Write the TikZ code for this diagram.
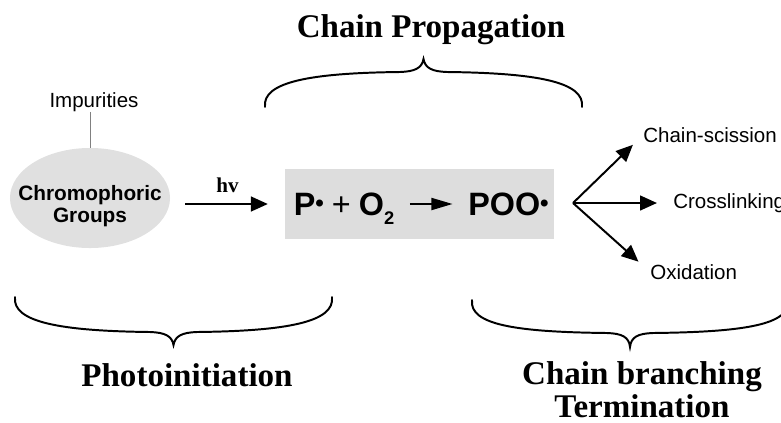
\documentclass[tikz,border=0pt]{standalone}
\usepackage{fontspec}
\setmainfont{Liberation Serif}
\setsansfont{Liberation Sans}
\usetikzlibrary{arrows.meta,shapes.geometric}
\definecolor{ovalgray}{RGB}{224,224,224}
\definecolor{boxgray}{RGB}{221,221,221}
\newcommand{\raddot}{\raisebox{0.1em}{\scalebox{0.75}{•}}}
\newcommand{\lowtwo}{\raisebox{-0.3em}{\fontsize{13}{13}\selectfont 2}}

\begin{document}
\begin{tikzpicture}[x=0.025cm,y=-0.025cm,
		stage/.style={font=\rmfamily\bfseries\fontsize{23.5}{23.5}\selectfont, align=center, inner sep=0pt},
		plain/.style={font=\sffamily\fontsize{14.6}{16}\selectfont, inner sep=0pt},
		grouptext/.style={font=\sffamily\bfseries\fontsize{14.8}{15.6}\selectfont, align=center, inner sep=0pt},
		eqn/.style={font=\sffamily\bfseries\fontsize{23}{23}\selectfont, inner sep=0pt, anchor=base},
		curly/.style={line width=1.4pt, line cap=round},
		heavyarrow/.style={line width=1.4pt, -{Triangle[length=12pt,width=10.5pt]}},
		slimarrow/.style={line width=1.4pt, -{Triangle[length=15pt,width=8.5pt]}}]
		\useasboundingbox (0,0) rectangle (781,422);
		% left part
		\node[ellipse, fill=ovalgray, minimum width=4cm, minimum height=2.5cm, inner sep=0pt] (chromo) at (90,198) {};
		\node[grouptext] (chromotext) at (90,206) {Chromophoric\\Groups};
		\node[plain] (imp) at (94,102) {Impurities};
		\draw[gray, line width=0.7pt] (chromo.north |- imp.south) -- (chromo.north);
		% reaction box
		\node[rectangle, fill=boxgray, minimum width=6.725cm, minimum height=1.75cm, inner sep=0pt] (box) at (419.5,204) {};
		\node[eqn] (lhs) at (344,215) {P\raddot\hspace{0.25em}{\mdseries +}\hspace{0.25em}O\lowtwo};
		\node[eqn] (rhs) at (508.5,215) {POO\raddot};
		\draw[slimarrow] ([xshift=11pt]lhs.east |- box) -- ([xshift=-11pt]rhs.west |- box);
		\draw[heavyarrow, shorten <=10.7pt, shorten >=12pt] (chromo.east |- box) -- (box.west)
			node[midway, above=7pt, font=\rmfamily\bfseries\fontsize{15}{15}\selectfont, inner sep=0pt] (hv) {hv};
		% branches
		\coordinate (fork) at (573,203);
		\node[plain, anchor=west] (scis) at (643,135) {Chain-scission};
		\node[plain, anchor=west] (cross) at (673,203) {Crosslinking};
		\node[plain, anchor=west] (oxid) at (650,272) {Oxidation};
		\draw[heavyarrow, shorten >=10pt] (fork) -- (scis.west);
		\draw[heavyarrow, shorten >=11.4pt] (fork) -- (cross.west);
		\draw[heavyarrow, shorten >=11pt] (fork) -- (oxid.west);
		% stage labels
		\node[stage] (propag) at (431,30) {Chain Propagation};
		\node[stage] (photoinit) at (187,375) {Photoinitiation};
		\node[stage] (branchterm) at (642,390) {Chain branching\\Termination};
		% braces
		\draw[curly] (265,107) .. controls (262,82) and (310,73) .. (400,72)
			.. controls (415,71.5) and (422,68) .. (423.5,59)
			.. controls (425,68) and (432,71.5) .. (447,72)
			.. controls (537,73) and (585,82) .. (582,107);
		\draw[curly] (15,297) .. controls (12,322) and (60,331) .. (150,332)
			.. controls (165,332.5) and (172,336) .. (173.5,345)
			.. controls (175,336) and (182,332.5) .. (197,332)
			.. controls (287,331) and (335,322) .. (332,297);
		\draw[curly] (472,300) .. controls (469,325) and (517,332) .. (607,333)
			.. controls (622,333.5) and (629,337) .. (630,347)
			.. controls (631,337) and (638,333.5) .. (653,333)
			.. controls (743,332) and (791,325) .. (788,300);
	\end{tikzpicture}
\end{document}
